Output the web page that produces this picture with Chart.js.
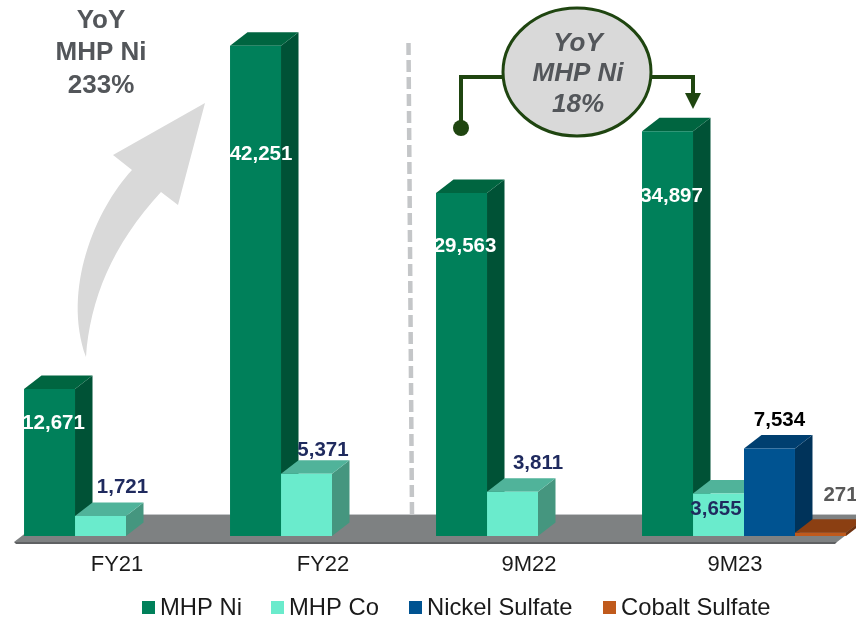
<!DOCTYPE html>
<html>
<head>
<meta charset="utf-8">
<style>
  html, body { margin: 0; padding: 0; background: #fff; }
  canvas { display: block; }
</style>
<script src="https://cdn.jsdelivr.net/npm/chart.js@4"></script>
</head>
<body>
<canvas id="chart" width="856" height="621"></canvas>
<script>
const categories = ['FY21', 'FY22', '9M22', '9M23'];
const mhpNi = [12671, 42251, 29563, 34897];
const mhpCo = [1721, 5371, 3811, 3655];
const nickelSulfate = [null, null, null, 7534];
const cobaltSulfate = [null, null, null, 271];

const FONT = '"Liberation Sans", Arial, sans-serif';
const DEPTH_X = 17.5;
const DEPTH_Y = 13.5;

// front, top and side face of each series
const faces = [
  { front: '#00805a', top: '#006540', side: '#005236', label: '#ffffff' },
  { front: '#6aebcc', top: '#50b39a', side: '#45967f', label: '#1f2a5e' },
  { front: '#005391', top: '#003f70', side: '#00335a', label: '#000000' },
  { front: '#c05a1c', top: '#8b3f12', side: '#6f3210', label: '#595959' },
];

// hand placed value labels: dx from bar centre, dy from bar top
const labelDx = [[4, 5.5, 3.5, 4], [22, 16.5, 25.5, -2.5], [0, 0, 0, 10], [0, 0, 0, 20]];
const labelDy = [[34, 109, 53, 65], [-29, -23, -28, 16], [0, 0, 0, -28], [0, 0, 0, -38]];

const legendX = [142, 271, 409, 603];

function poly(ctx, pts, fill) {
  ctx.beginPath();
  pts.forEach((p, i) => (i ? ctx.lineTo(p[0], p[1]) : ctx.moveTo(p[0], p[1])));
  ctx.closePath();
  ctx.fillStyle = fill;
  ctx.fill();
}

function drawFloor(ctx) {
  poly(ctx, [[14, 542], [49, 515], [872, 515], [837, 542]], '#7e8182');
  poly(ctx, [[14, 542], [837, 542], [835, 544], [16, 544]], '#5f6163');
  ctx.strokeStyle = '#c4c6c8';
  ctx.lineWidth = 1;
  ctx.beginPath();
  ctx.moveTo(49, 514.5);
  ctx.lineTo(856, 514.5);
  ctx.stroke();
}

function drawDivider(ctx) {
  ctx.save();
  ctx.strokeStyle = '#c4c6c8';
  ctx.lineWidth = 4.5;
  ctx.setLineDash([12, 5]);
  ctx.beginPath();
  ctx.moveTo(408.5, 43);
  ctx.lineTo(412, 515);
  ctx.stroke();
  ctx.restore();
}

function drawGrowthArrow(ctx) {
  ctx.beginPath();
  ctx.moveTo(205, 103);
  ctx.lineTo(113, 155);
  ctx.lineTo(132, 170);
  ctx.bezierCurveTo(95, 210, 62, 290, 86, 357);
  ctx.bezierCurveTo(90, 300, 112, 245, 161, 192);
  ctx.lineTo(178, 205);
  ctx.closePath();
  ctx.fillStyle = '#d9d9d9';
  ctx.fill();
}

function drawCallouts(ctx) {
  const green = '#1f4510';
  ctx.save();
  // connector
  ctx.strokeStyle = green;
  ctx.lineWidth = 4;
  ctx.beginPath();
  ctx.moveTo(461, 128);
  ctx.lineTo(461, 77);
  ctx.lineTo(693, 77);
  ctx.lineTo(693, 95);
  ctx.stroke();
  poly(ctx, [[685, 93], [701, 93], [693, 109]], green);
  ctx.beginPath();
  ctx.arc(461, 128, 8, 0, Math.PI * 2);
  ctx.fillStyle = green;
  ctx.fill();
  // oval
  ctx.beginPath();
  ctx.ellipse(577, 72, 74, 64, 0, 0, Math.PI * 2);
  ctx.fillStyle = '#d9d9d9';
  ctx.fill();
  ctx.lineWidth = 3;
  ctx.stroke();
  // text
  ctx.fillStyle = '#53565a';
  ctx.textAlign = 'center';
  ctx.textBaseline = 'middle';
  ctx.font = 'italic bold 26px ' + FONT;
  ctx.fillText('YoY', 578, 44);
  ctx.fillText('MHP Ni', 578, 74);
  ctx.fillText('18%', 578, 105);
  ctx.font = 'bold 26px ' + FONT;
  ctx.fillText('YoY', 101, 21);
  ctx.fillText('MHP Ni', 101, 53);
  ctx.fillText('233%', 101, 86);
  ctx.restore();
}

const extrudePlugin = {
  id: 'extrude',
  beforeDatasetsDraw(chart) {
    const ctx = chart.ctx;
    ctx.save();
    drawFloor(ctx);
    drawDivider(ctx);
    // sides and tops go under the fronts, left to right so nearer bars cover
    for (let c = 0; c < categories.length; c++) {
      chart.data.datasets.forEach((ds, d) => {
        const bar = chart.getDatasetMeta(d).data[c];
        if (!bar || bar.skip || ds.data[c] == null) return;
        const l = bar.x - bar.width / 2;
        const r = bar.x + bar.width / 2;
        poly(ctx, [[r, bar.y], [r + DEPTH_X, bar.y - DEPTH_Y], [r + DEPTH_X, bar.base - DEPTH_Y], [r, bar.base]], faces[d].side);
        poly(ctx, [[l, bar.y], [l + DEPTH_X, bar.y - DEPTH_Y], [r + DEPTH_X, bar.y - DEPTH_Y], [r, bar.y]], faces[d].top);
      });
    }
    drawGrowthArrow(ctx);
    ctx.restore();
  },
  afterDatasetsDraw(chart) {
    const ctx = chart.ctx;
    ctx.save();
    ctx.textAlign = 'center';
    ctx.textBaseline = 'middle';
    ctx.font = 'bold 20.5px ' + FONT;
    chart.data.datasets.forEach((ds, d) => {
      chart.getDatasetMeta(d).data.forEach((bar, c) => {
        if (ds.data[c] == null) return;
        ctx.fillStyle = faces[d].label;
        ctx.fillText(ds.data[c].toLocaleString('en-US'), bar.x + labelDx[d][c], bar.y + labelDy[d][c]);
      });
    });
    ctx.restore();
    drawCallouts(ctx);

    // legend
    ctx.save();
    ctx.textAlign = 'left';
    ctx.textBaseline = 'middle';
    ctx.font = '23.8px ' + FONT;
    chart.data.datasets.forEach((ds, d) => {
      ctx.fillStyle = faces[d].front;
      ctx.fillRect(legendX[d], 601, 13, 13);
      ctx.fillStyle = '#1a1a1a';
      ctx.fillText(ds.label, legendX[d] + 18, 608);
    });
    ctx.restore();
  },
};

new Chart(document.getElementById('chart'), {
  type: 'bar',
  data: {
    labels: categories,
    datasets: [
      { label: 'MHP Ni', data: mhpNi, backgroundColor: faces[0].front },
      { label: 'MHP Co', data: mhpCo, backgroundColor: faces[1].front },
      { label: 'Nickel Sulfate', data: nickelSulfate, backgroundColor: faces[2].front },
      { label: 'Cobalt Sulfate', data: cobaltSulfate, backgroundColor: faces[3].front },
    ],
  },
  options: {
    responsive: false,
    animation: false,
    layout: { padding: { left: 23, right: 9, top: 0, bottom: 0 } },
    datasets: { bar: { barPercentage: 1, categoryPercentage: 0.99 } },
    plugins: { legend: { display: false }, tooltip: { enabled: false } },
    scales: {
      x: {
        grid: { display: false },
        border: { display: false },
        ticks: {
          color: '#1a1a1a',
          padding: 8,
          labelOffset: -9,
          maxRotation: 0,
          font: { family: FONT, size: 22 },
        },
        afterFit(scale) { scale.height = 85; },
      },
      y: { display: false, min: 0, max: 46200 },
    },
  },
  plugins: [extrudePlugin],
});
</script>
</body>
</html>
